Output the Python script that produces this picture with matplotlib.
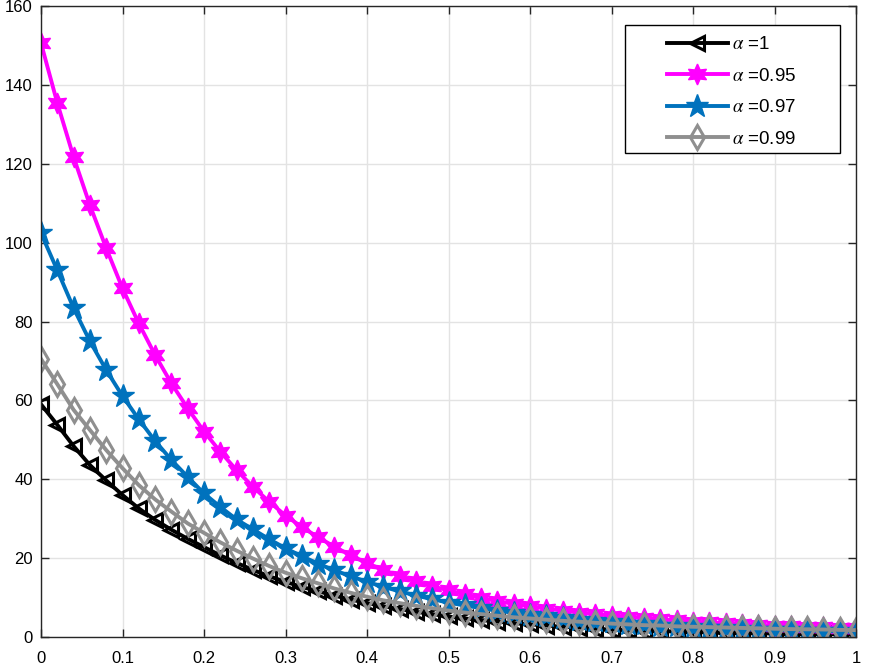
#! /usr/bin/env python

import numpy as np
import matplotlib
matplotlib.use('Agg')
import matplotlib.pyplot as plt
from matplotlib.patches import Rectangle

# x positions of the samples (0 to 1, step 0.02)
x_vals = np.linspace(0, 1, 51)

labels = [r'$\alpha$ =1', r'$\alpha$ =0.95', r'$\alpha$ =0.97', r'$\alpha$ =0.99']

alpha_1 = [59.0, 53.8, 48.4, 43.6, 39.7, 36.0, 32.6, 29.7, 27.2, 24.9,
           22.8, 20.7, 18.8, 17.0, 15.4, 14.0, 12.7, 11.6, 10.5, 9.5,
           8.6, 7.8, 7.1, 6.4, 5.8, 5.2, 4.7, 4.3, 3.9, 3.5,
           3.2, 2.9, 2.6, 2.4, 2.1, 1.9, 1.8, 1.6, 1.5, 1.4,
           1.3, 1.2, 1.1, 1.0, 0.95, 0.9, 0.85, 0.8, 0.75, 0.7,
           0.65]
alpha_095 = [150.6, 135.4, 121.7, 109.5, 98.6, 88.4, 79.5, 71.5, 64.3, 58.0,
             52.1, 47.0, 42.3, 38.1, 34.3, 30.8, 27.9, 25.3, 22.9, 20.7,
             18.7, 17.0, 15.5, 14.1, 12.9, 11.8, 10.8, 9.9, 9.1, 8.4,
             7.8, 7.2, 6.7, 6.2, 5.8, 5.4, 5.1, 4.8, 4.5, 4.2,
             3.9, 3.7, 3.5, 3.3, 3.1, 2.9, 2.8, 2.6, 2.5, 2.4,
             2.3]
alpha_097 = [102.4, 93.0, 83.4, 75.0, 67.7, 61.1, 55.2, 49.7, 44.9, 40.6,
             36.4, 33.0, 29.8, 27.3, 24.8, 22.5, 20.5, 18.6, 16.9, 15.4,
             14.0, 12.7, 11.6, 10.5, 9.6, 8.7, 8.0, 7.3, 6.7, 6.1,
             5.6, 5.2, 4.8, 4.4, 4.0, 3.7, 3.4, 3.2, 2.9, 2.7,
             2.5, 2.3, 2.2, 2.0, 1.9, 1.8, 1.7, 1.6, 1.5, 1.4,
             1.3]
alpha_099 = [70.5, 64.1, 57.6, 52.5, 47.4, 42.8, 38.5, 34.9, 31.8, 28.8,
             26.4, 24.0, 21.9, 19.9, 18.0, 16.3, 14.9, 13.6, 12.3, 11.2,
             10.2, 9.3, 8.6, 7.9, 7.3, 6.7, 6.2, 5.8, 5.4, 5.0,
             4.7, 4.4, 4.1, 3.9, 3.6, 3.4, 3.2, 3.0, 2.9, 2.7,
             2.6, 2.5, 2.4, 2.3, 2.2, 2.1, 2.0, 1.95, 1.9, 1.8,
             1.75]

x_ticks = [0, 0.1, 0.2, 0.3, 0.4, 0.5, 0.6, 0.7, 0.8, 0.9, 1]
x_tick_labels = ['0', '0.1', '0.2', '0.3', '0.4', '0.5', '0.6', '0.7', '0.8', '0.9', '1']
y_ticks = [0, 20, 40, 60, 80, 100, 120, 140, 160]

AX_COLOR = '#262626'
W, H = 869, 668

plt.rcParams['font.family'] = ['Liberation Sans', 'DejaVu Sans']
plt.rcParams['mathtext.fontset'] = 'stix'

fig = plt.figure(figsize=(W / 100, H / 100), dpi=100)
ax = fig.add_axes([41 / W, 31 / H, 815 / W, 631 / H])

ax.plot(x_vals, alpha_1, color='black', lw=2.8, marker='<', ms=10,
        mfc='none', mec='black', mew=2.2, label=labels[0])
ax.plot(x_vals, alpha_095, color='#ff00ff', lw=2.8, marker=(6, 1, 0), ms=15,
        mfc='#ff00ff', mec='#ff00ff', label=labels[1])
ax.plot(x_vals, alpha_097, color='#0072bd', lw=2.8, marker='*', ms=17,
        mfc='#0072bd', mec='#0072bd', label=labels[2])
ax.plot(x_vals, alpha_099, color='#8f8f8f', lw=2.8, marker='d', ms=12,
        mfc='none', mec='#8f8f8f', mew=2.2, label=labels[3])

ax.set_xlim(0, 1)
ax.set_ylim(0, 160)
ax.set_xticks(x_ticks)
ax.set_xticklabels(x_tick_labels)
ax.set_yticks(y_ticks)

ax.grid(True, color='#e3e3e3', lw=1)
ax.set_axisbelow(True)
for side in ax.spines.values():
    side.set_color(AX_COLOR)
    side.set_linewidth(1)
ax.tick_params(direction='in', length=6, width=1, color=AX_COLOR,
               labelsize=12, labelcolor='black', top=True, right=True)
ax.tick_params(axis='x', pad=10)
ax.tick_params(axis='y', pad=6)

# MATLAB style legend box: wide padding, drawn by hand behind the entries
box = Rectangle((625 / W, 1 - 153 / H), 215 / W, 128 / H, transform=fig.transFigure,
                facecolor='white', edgecolor='black', lw=1, zorder=4, clip_on=False)
ax.add_patch(box)
leg = ax.legend(loc='upper left', bbox_to_anchor=(667 / W, 1 - 36 / H),
                bbox_transform=fig.transFigure, borderaxespad=0, borderpad=0,
                fontsize=13.5, handlelength=3.25, handletextpad=0.2,
                labelspacing=0.77, frameon=False)
leg.set_zorder(5)

fig.savefig('out.png', dpi=100)
